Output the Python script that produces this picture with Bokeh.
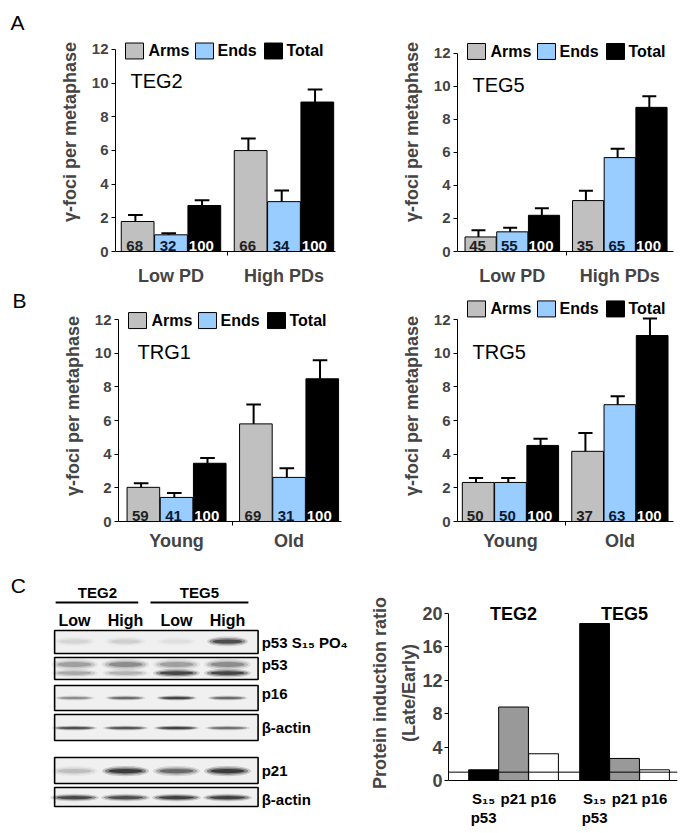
import numpy as np
from bokeh.plotting import figure
from bokeh.models import (ColumnDataSource, Range1d, FixedTicker, Span, LinearAxis)
from bokeh.layouts import row, column
from bokeh.embed import file_html
from bokeh.resources import INLINE
from bokeh.core.properties import value

FONT = "Liberation Sans"

# ---------------- data: panels A and B ----------------
series = ["Arms", "Ends", "Total"]
series_colors = ["#c0c0c0", "#99ccff", "#000000"]
pct_colors = ["#222222", "#0b1a33", "#ffffff"]
y_ticks_ab = [0, 2, 4, 6, 8, 10, 12]

teg_groups = ["Low PD", "High PDs"]
trg_groups = ["Young", "Old"]

teg2_arms = [1.78, 5.99]
teg2_ends = [0.99, 2.96]
teg2_total = [2.73, 8.87]
teg2_arms_err = [0.39, 0.71]
teg2_ends_err = [0.10, 0.66]
teg2_total_err = [0.31, 0.75]
teg2_pct_arms = [68, 66]
teg2_pct_ends = [32, 34]
teg2_pct_total = [100, 100]

teg5_arms = [0.88, 3.08]
teg5_ends = [1.19, 5.68]
teg5_total = [2.19, 8.72]
teg5_arms_err = [0.41, 0.59]
teg5_ends_err = [0.25, 0.54]
teg5_total_err = [0.42, 0.67]
teg5_pct_arms = [45, 35]
teg5_pct_ends = [55, 65]
teg5_pct_total = [100, 100]

trg1_arms = [2.03, 5.80]
trg1_ends = [1.43, 2.62]
trg1_total = [3.46, 8.48]
trg1_arms_err = [0.25, 1.15]
trg1_ends_err = [0.26, 0.54]
trg1_total_err = [0.32, 1.10]
trg1_pct_arms = [59, 69]
trg1_pct_ends = [41, 31]
trg1_pct_total = [100, 100]

trg5_arms = [2.32, 4.17]
trg5_ends = [2.32, 6.94]
trg5_total = [4.52, 11.05]
trg5_arms_err = [0.26, 1.09]
trg5_ends_err = [0.26, 0.50]
trg5_total_err = [0.40, 1.01]
trg5_pct_arms = [50, 37]
trg5_pct_ends = [50, 63]
trg5_pct_total = [100, 100]

# ---------------- data: panel C (ratio chart) ----------------
c_groups = ["TEG2", "TEG5"]
c_tick_labels = ["S\u2081\u2085", "p21", "p16"]
c_tick_labels2 = ["p53", "", ""]
c_p53s15 = [1.28, 18.8]
c_p21 = [8.8, 2.64]
c_p16 = [3.2, 1.28]
c_colors = ["#000000", "#999999", "#ffffff"]
c_y_ticks = [0, 4, 8, 12, 16, 20]
c_ref_level = 1

# ---------------- data: panel C (western blot) ----------------
blot_groups = ["TEG2", "TEG5"]
blot_lanes = ["Low", "High", "Low", "High"]
blot_rows = ["p53 S\u2081\u2085 PO\u2084", "p53", "p16", "\u03b2-actin", "p21", "\u03b2-actin"]
# band intensities per lane (0 = none, 1 = saturated), one entry per band
band_row = [0, 1, 1, 2, 3, 4, 5]
band_intensity = [
    [0.10, 0.12, 0.06, 0.85],
    [0.35, 0.45, 0.35, 0.45],
    [0.30, 0.25, 0.90, 0.90],
    [0.45, 0.65, 0.95, 0.65],
    [0.85, 0.80, 0.95, 0.60],
    [0.20, 1.00, 0.65, 1.00],
    [0.90, 0.85, 0.95, 0.95],
]
# band geometry (row / lane units)
band_dy = [-0.02, -0.14, 0.16, 0.0, 0.02, 0.02, 0.02]
band_h = [0.34, 0.40, 0.30, 0.17, 0.17, 0.36, 0.26]
band_w = [0.80, 0.92, 0.92, 0.78, 0.88, 0.92, 0.96]

# blot box layout (row / lane units)
row_pos = [0.0, 0.923, 1.951, 2.979, 4.477, 5.401]
row_h = [0.80, 0.77, 0.87, 0.91, 0.91, 0.66]

# legend geometry (pixels from the frame's left edge)
leg_box_px = [10, 80, 149]
leg_lab_px = [33, 102, 171]


def base_fig(W, H, xr, yr, fl, fr, ft, fb, axes=True):
    kw = {}
    if not axes:
        kw = dict(x_axis_location=None, y_axis_location=None)
    p = figure(width=W, height=H, x_range=xr, y_range=yr,
               min_border_left=fl, min_border_right=fr, min_border_top=ft, min_border_bottom=fb,
               output_backend="svg", toolbar_location=None, **kw)
    p.title.visible = False
    p.outline_line_color = None
    p.grid.visible = False
    p.background_fill_color = "white"
    p.border_fill_color = "white"
    return p


def letter_fig(letter, W, H, ft, y0, ppu, lx, ly_px):
    ye = (y0 - ft) / ppu
    p = base_fig(W, H, Range1d(0, W), Range1d(0, ye), 0, 0, ft, H - y0, axes=False)
    p.text(x=[lx], y=[(y0 - ly_px) / ppu], text=[letter], text_align="left", text_baseline="middle",
           text_font=value(FONT), text_font_size="21px")
    return p


def bar_panel(title, groups, vals, errs, pcts, W, H, fl, fw, ft, y0, ppu, xs, xe,
              leg_yc, title_dx, x_standoff):
    ye = (y0 - ft) / ppu
    p = base_fig(W, H, Range1d(xs, xe), Range1d(0, ye), fl, W - fl - fw, ft, H - y0)
    ppx = fw / (xe - xs)

    gx = np.arange(len(groups), dtype=float)
    offsets = [-0.295, 0.0, 0.295]
    bw = 0.29
    for k in range(3):
        xc = gx + offsets[k]
        v = np.array(vals[k], dtype=float)
        e = np.array(errs[k], dtype=float)
        src = ColumnDataSource(dict(x=xc, top=v, et=v + e, xs=xc - 0.02,
                                    c0=xc - 0.02 - 0.065, c1=xc - 0.02 + 0.065,
                                    pct=[str(t) for t in pcts[k]]))
        p.vbar(x="x", top="top", bottom=0, width=bw, source=src,
               fill_color=series_colors[k], line_color="black", line_width=1)
        p.segment(x0="xs", y0="top", x1="xs", y1="et", source=src, line_color="black", line_width=2)
        p.segment(x0="c0", y0="et", x1="c1", y1="et", source=src, line_color="black", line_width=2)
        p.text(x="x", y=0, text="pct", source=src, text_align="center", text_baseline="alphabetic",
               x_offset=-3, y_offset=-6, text_font=value(FONT), text_font_style="bold",
               text_font_size="15px", text_color=pct_colors[k])

    lbx = [xs + (b + 9) / ppx for b in leg_box_px]
    p.rect(x=lbx, y=[leg_yc] * 3, width=18 / ppx, height=16 / ppu,
           fill_color=series_colors, line_color="black", line_width=1)
    llx = [xs + b / ppx for b in leg_lab_px]
    p.text(x=llx, y=[leg_yc] * 3, text=series, text_align="left", text_baseline="middle",
           text_font=value(FONT), text_font_style="bold", text_font_size="16px")

    p.text(x=[xs + title_dx / ppx], y=[10.1], text=[title], text_align="left",
           text_baseline="middle", text_font=value(FONT), text_font_size="20px", text_color="black")

    xa = p.xaxis[0]
    xa.ticker = FixedTicker(ticks=[int(i) for i in range(len(groups))], minor_ticks=[0.5])
    xa.major_label_overrides = {int(i): g for i, g in enumerate(groups)}
    xa.major_tick_out = 0
    xa.major_tick_in = 0
    xa.minor_tick_out = 4
    xa.minor_tick_in = 0
    xa.major_label_standoff = x_standoff
    xa.major_label_text_font = FONT
    xa.major_label_text_font_style = "bold"
    xa.major_label_text_font_size = "18px"

    ya = p.yaxis[0]
    ya.ticker = FixedTicker(ticks=y_ticks_ab)
    ya.bounds = (0, 12)
    ya.major_tick_out = 4
    ya.major_tick_in = 0
    ya.minor_tick_out = 0
    ya.minor_tick_in = 0
    ya.major_label_standoff = 3
    ya.major_label_text_font = FONT
    ya.major_label_text_font_style = "bold"
    ya.major_label_text_font_size = "15px"
    ya.axis_label = "\u03b3-foci per metaphase"
    ya.axis_label_text_font = FONT
    ya.axis_label_text_font_style = "bold"
    ya.axis_label_text_font_size = "18px"
    ya.axis_label_standoff = 9
    return p


LW = 30  # width of the panel-letter strip
AH, BH, CH = 288, 267, 275
# row A: frames from local 12 to 252
let_a = letter_fig("A", LW, AH, 12, 252, 16.92, 10, 22)
a_left = bar_panel("TEG2", teg_groups, [teg2_arms, teg2_ends, teg2_total],
                   [teg2_arms_err, teg2_ends_err, teg2_total_err],
                   [teg2_pct_arms, teg2_pct_ends, teg2_pct_total],
                   W=342 - LW, H=AH, fl=115 - LW, fw=220, ft=12, y0=252, ppu=16.92,
                   xs=-0.491, xe=1.456, leg_yc=11.9, title_dx=15, x_standoff=10)
a_right = bar_panel("TEG5", teg_groups, [teg5_arms, teg5_ends, teg5_total],
                    [teg5_arms_err, teg5_ends_err, teg5_total_err],
                    [teg5_pct_arms, teg5_pct_ends, teg5_pct_total],
                    W=343, H=AH, fl=115, fw=216, ft=12, y0=252, ppu=16.6,
                    xs=-0.51, xe=1.50, leg_yc=12.1, title_dx=15, x_standoff=10)
# row B: frames from local 2 to 233
let_b = letter_fig("B", LW, BH, 2, 233, 16.83, 12, 12)
b_left = bar_panel("TRG1", trg_groups, [trg1_arms, trg1_ends, trg1_total],
                   [trg1_arms_err, trg1_ends_err, trg1_total_err],
                   [trg1_pct_arms, trg1_pct_ends, trg1_pct_total],
                   W=342 - LW, H=BH, fl=118 - LW, fw=223, ft=2, y0=233, ppu=16.83,
                   xs=-0.516, xe=1.466, leg_yc=11.94, title_dx=19, x_standoff=5)
b_right = bar_panel("TRG5", trg_groups, [trg5_arms, trg5_ends, trg5_total],
                    [trg5_arms_err, trg5_ends_err, trg5_total_err],
                    [trg5_pct_arms, trg5_pct_ends, trg5_pct_total],
                    W=343, H=BH, fl=115, fw=216, ft=2, y0=233, ppu=16.83,
                    xs=-0.484, xe=1.49, leg_yc=12.63, title_dx=15, x_standoff=5)

# ---------------- panel C right: ratio bars (frame spans full height) ----------------
W, fl, fw, y0, ppu = 327, 90, 229, 225, 8.35
c_right = base_fig(W, CH, Range1d(-0.586, 1.477), Range1d(-(CH - y0) / ppu, y0 / ppu),
                   fl, W - fl - fw, 0, 0)
c_right.xaxis.visible = False
cg = np.arange(len(c_groups), dtype=float)
c_off = [-0.27, 0.0, 0.27]
c_vals = [c_p53s15, c_p21, c_p16]
lab_x, lab_t, lab2_x, lab2_t = [], [], [], []
for k in range(3):
    xc = cg + c_off[k]
    c_right.vbar(x=xc, top=c_vals[k], bottom=0, width=0.268, fill_color=c_colors[k],
                 line_color="black", line_width=1)
    for xx in xc:
        lab_x.append(float(xx))
        lab_t.append(c_tick_labels[k])
        if c_tick_labels2[k]:
            lab2_x.append(float(xx))
            lab2_t.append(c_tick_labels2[k])
c_right.add_layout(Span(location=0, dimension="width", line_color="black", line_width=1.2))
c_right.add_layout(Span(location=c_ref_level, dimension="width", line_color="black",
                        line_width=1, level="overlay"))
c_right.text(x=cg, y=[20.0, 20.0], text=c_groups, text_align="center", text_baseline="middle",
             text_font=value(FONT), text_font_style="bold", text_font_size="18px")
c_right.text(x=lab_x, y=[0] * len(lab_x), text=lab_t, y_offset=18, text_align="center",
             text_baseline="middle", text_font=value(FONT), text_font_style="bold",
             text_font_size="15px")
c_right.text(x=lab2_x, y=[0] * len(lab2_x), text=lab2_t, y_offset=37, text_align="center",
             text_baseline="middle", text_font=value(FONT), text_font_style="bold",
             text_font_size="15px")
ya = c_right.yaxis[0]
ya.ticker = FixedTicker(ticks=c_y_ticks)
ya.bounds = (0, 20)
ya.major_tick_out = 4
ya.major_tick_in = 0
ya.minor_tick_out = 0
ya.minor_tick_in = 0
ya.major_label_standoff = 2
ya.major_label_text_font = FONT
ya.major_label_text_font_style = "bold"
ya.major_label_text_font_size = "18px"
ya.axis_label = "(Late/Early)"
ya.axis_label_text_font = FONT
ya.axis_label_text_font_style = "bold"
ya.axis_label_text_font_size = "18px"
ya.axis_label_standoff = 0
ya2 = LinearAxis(ticker=FixedTicker(ticks=[]), axis_line_color=None,
                 major_tick_out=0, major_tick_in=0, minor_tick_out=0, minor_tick_in=0,
                 axis_label="Protein induction ratio", axis_label_text_font=FONT,
                 axis_label_text_font_style="bold", axis_label_text_font_size="18px",
                 axis_label_standoff=7)
c_right.add_layout(ya2, "left")

# ---------------- panel C left: western blot ----------------
c_left = base_fig(358, CH, Range1d(-1.451, 5.569), Range1d(6.568, -3.014), 0, 0, 0, 0, axes=False)
nl = len(blot_lanes)
c_left.rect(x=[1.605] * len(row_pos), y=row_pos, width=[3.99] * len(row_pos), height=row_h,
            fill_color="#f0f0f0", line_color="black", line_width=1.6)
bx, by, bwid, bht, bal = [], [], [], [], []
for b in range(len(band_row)):
    r = band_row[b]
    for lane in range(nl):
        inten = band_intensity[b][lane]
        for sw, sh, sa in [(1.0, 1.0, 0.18), (0.88, 0.7, 0.35), (0.72, 0.42, 0.6)]:
            bx.append(lane)
            by.append(row_pos[r] + band_dy[b])
            bwid.append(band_w[b] * sw)
            bht.append(band_h[b] * sh)
            bal.append(inten * sa)
c_left.ellipse(x=bx, y=by, width=bwid, height=bht, fill_color="#0a0a0a", fill_alpha=bal,
               line_color=None)
c_left.segment(x0=[-0.37, 1.49], y0=[-1.376, -1.376], x1=[1.25, 3.41], y1=[-1.376, -1.376],
               line_color="black", line_width=2)
c_left.text(x=[0.45, 2.45], y=[-1.73, -1.73], text=blot_groups, text_align="center",
            text_baseline="middle", text_font=value(FONT), text_font_style="bold",
            text_font_size="15px")
c_left.text(x=list(range(nl)), y=[-0.75] * nl, text=blot_lanes, text_align="center",
            text_baseline="middle", text_font=value(FONT), text_font_style="bold",
            text_font_size="16px")
lab_y = [0.0, 0.8, 1.8, 2.98, 4.48, 5.5]
c_left.text(x=[3.67] * len(blot_rows), y=lab_y, text=blot_rows, text_align="left",
            text_baseline="middle", text_font=value(FONT), text_font_style="bold",
            text_font_size="15px")
c_left.text(x=[-1.25], y=[-1.97], text=["C"], text_align="left", text_baseline="middle",
            text_font=value(FONT), text_font_size="21px")

layout = column(row(let_a, a_left, a_right), row(let_b, b_left, b_right), row(c_left, c_right))
open("out.html", "w").write(file_html(layout, INLINE))
